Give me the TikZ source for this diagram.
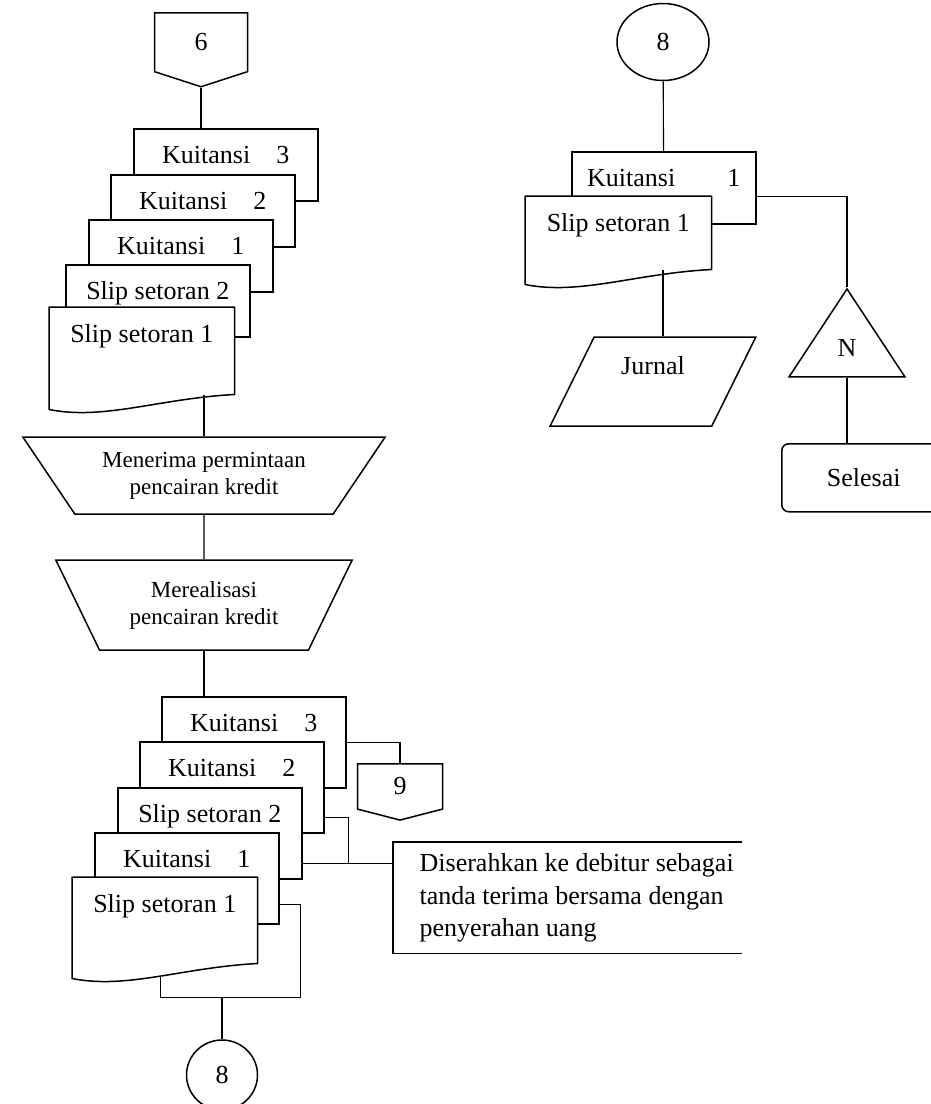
\documentclass[tikz,border=0pt]{standalone}
\usepackage{fontspec}
\setmainfont{Liberation Serif}
\usetikzlibrary{positioning, shapes.geometric, shapes.symbols}

\begin{document}
\begin{tikzpicture}[
        x=1pt, y=-1pt,
        doc/.style={
            rectangle,
            draw,
            fill=white,
            line width=1.5pt,
            inner sep=0pt,
            minimum width=184pt,
            text height=35pt,
            text depth=37pt,
            anchor=north west,
            font=\fontsize{26pt}{32pt}\selectfont
        },
        tall/.style={text depth=56pt},
        wavy/.style={
            draw=none,
            fill=none,
            append after command={\pgfextra{\let\wavenode\tikzlastnode
                \filldraw[fill=white, line width=1.5pt, line join=round]
                    (\wavenode.south east) -- (\wavenode.north east) -- (\wavenode.north west)
                    -- ([yshift=-15pt]\wavenode.south west)
                    .. controls ([xshift=55pt, yshift=-26pt]\wavenode.south west)
                    and ([xshift=110pt, yshift=-4pt]\wavenode.south west)
                    .. (\wavenode.south east) coordinate[pos=0.52] (\wavenode-w) -- cycle;}}
        },
        offpage/.style={
            signal,
            signal to=south,
            draw,
            fill=white,
            line width=1.5pt,
            inner sep=0pt,
            font=\fontsize{26pt}{32pt}\selectfont
        },
        connector/.style={
            ellipse,
            draw,
            line width=1.5pt,
            inner sep=0pt,
            font=\fontsize{26pt}{32pt}\selectfont
        },
        manual/.style={
            trapezium,
            shape border rotate=180,
            trapezium stretches=true,
            draw,
            line width=1.5pt,
            inner sep=0pt,
            align=center,
            font=\fontsize{23pt}{27pt}\selectfont
        },
        io/.style={
            trapezium,
            trapezium left angle=65,
            trapezium right angle=115,
            trapezium stretches=true,
            draw,
            line width=1.5pt,
            inner sep=0pt,
            font=\fontsize{26pt}{32pt}\selectfont
        },
        merge/.style={
            isosceles triangle,
            shape border rotate=90,
            isosceles triangle stretches=true,
            draw,
            line width=1.5pt,
            inner sep=0pt,
            font=\fontsize{26pt}{32pt}\selectfont
        },
        terminal/.style={
            rectangle,
            rounded corners=7pt,
            draw,
            line width=1.5pt,
            inner sep=0pt,
            anchor=north west,
            font=\fontsize{26pt}{32pt}\selectfont
        },
        note/.style={
            rectangle,
            inner sep=0pt,
            anchor=north west,
            minimum width=349pt,
            minimum height=111pt,
            font=\fontsize{26pt}{32.5pt}\selectfont,
            append after command={\pgfextra{
                \draw[line width=1.5pt] (\tikzlastnode.north east) -- (\tikzlastnode.north west)
                    -- (\tikzlastnode.south west) -- (\tikzlastnode.south east);}}
        },
        link/.style={
            -,
            line width=1.1pt
        }
    ]
    \useasboundingbox (0,0) rectangle (931,1104);

    \node[offpage, anchor=north, minimum width=93pt, minimum height=61pt, signal pointer angle=144] (off6) at (201,12) {6};
    \node[doc] (kui3) at (133,128) {Kuitansi\quad 3};
    \node[doc] (kui2) at (110,174) {Kuitansi\quad 2};
    \node[doc] (kui1) at (88,219) {Kuitansi\quad 1};
    \node[doc] (slip2) at (65,264) {Slip setoran 2};
    \node[doc, wavy, text depth=51pt] (slip1) at (49,307) {Slip setoran 1};

    \node[manual, minimum width=363pt, minimum height=77pt, trapezium angle=49] (receive) at (204,475.5) {Menerima permintaan\\pencairan kredit};
    \node[manual, minimum width=297pt, minimum height=90pt, trapezium angle=57] (realize) at (204,605) {Merealisasi\\pencairan kredit};

    \node[doc, tall] (kui3b) at (161,696) {Kuitansi\quad 3};
    \node[doc, tall] (kui2b) at (139,741) {Kuitansi\quad 2};
    \node[doc, tall] (slip2b) at (117,787) {Slip setoran 2};
    \node[doc, tall] (kui1b) at (94,832) {Kuitansi\quad 1};
    \node[doc, wavy, text depth=50pt] (slip1b) at (72,877) {Slip setoran 1};

    \node[offpage, anchor=north, minimum width=85pt, minimum height=47pt, signal pointer angle=151] (off9) at (400,763) {9};
    \node[note] (handover) at (393,842) {\begin{tabular}{@{\hspace{18pt}}l@{}}Diserahkan ke debitur sebagai\\tanda terima bersama dengan\\penyerahan uang\end{tabular}};
    \node[connector, minimum width=71pt, minimum height=70pt] (con8) at (222,1075) {8};

    \node[connector, minimum width=92pt, minimum height=77pt] (con8r) at (663,42) {8};
    \node[doc] (kui1r) at (571,151) {Kuitansi\qquad 1};
    \node[doc, wavy, minimum width=185pt] (slip1r) at (525,196) {Slip setoran 1};
    \node[io, minimum width=206pt, minimum height=89pt, text height=18pt, text depth=33pt] (journal) at (653,381.5) {Jurnal};
    \node[merge, anchor=apex, minimum width=116pt, minimum height=88pt] (check) at (847,287) {N};
    \node[terminal, minimum width=164pt, minimum height=68pt] (done) at (781,443) {Selesai};

    \draw[link] (off6.south) -- (off6.south |- kui3.north);
    \draw[link] (receive |- slip1.south) -- (receive);
    \draw[link] (receive) -- (realize);
    \draw[link] (realize) -- (realize |- kui3b.north);
    \draw[link] (kui3b.east) -| (off9);
    \draw[link] ([yshift=-30pt]kui2b.east) -- ++(24,0) |- ([yshift=-30pt]slip2b.east);
    \draw[link] ([yshift=-30pt]slip2b.east) -- ([yshift=-30pt]slip2b.east -| handover.west);
    \draw[link] (con8.north) -- ++(0,-42) coordinate (joinb);
    \draw[link] ([yshift=-26pt]kui1b.east) -- ++(21,0) |- (joinb) -| (slip1b-w);

    \draw[link] (con8r) -- (kui1r);
    \draw[link] ([yshift=-9pt]kui1r.east) -| (check.apex);
    \draw[link] ([xshift=10pt]journal.north |- slip1r.south) -- ([xshift=10pt]journal.north);
    \draw[link] (check.south) -- (check.south |- done.north);
\end{tikzpicture}
\end{document}
